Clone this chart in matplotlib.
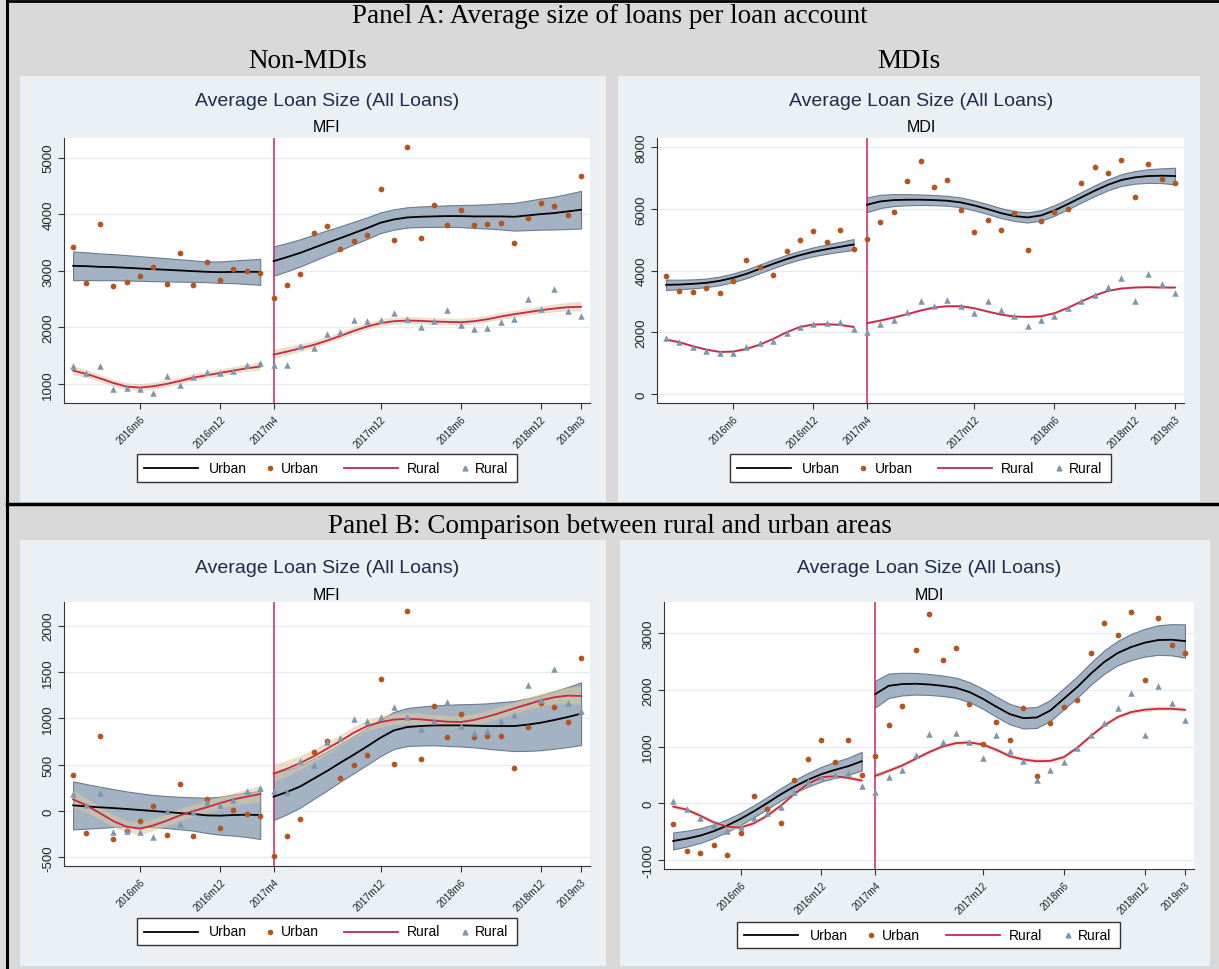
import numpy as np
import matplotlib.pyplot as plt
from matplotlib.patches import Rectangle

W, H = 1219, 970

# months 2016m1 .. 2019m3, cutoff at 2017m4
months = np.arange(39)
cutoff = 15
tick_pos = [5, 11, 15, 23, 29, 35, 38]
tick_labels = ["2016m6", "2016m12", "2017m4", "2017m12", "2018m6", "2018m12", "2019m3"]

# ---- Panel A, Non-MDIs (MFI) ----
a_mfi_urban = [3419, 2788, 3832, 2723, 2799, 2917, 3071, 2758, 3313, 2746, 3153, 2835, 3029, 2994, 2970,
               2528, 2752, 2935, 3661, 3785, 3378, 3519, 3625, 4445, 3537, 5183, 3584, 4162, 3814, 4074,
               3814, 3832, 3838, 3490, 3938, 4192, 4145, 3991, 4676]
a_mfi_rural = [1312, 1195, 1324, 905, 929, 905, 846, 1135, 988, 1130, 1218, 1195, 1236, 1342, 1377,
               1330, 1330, 1672, 1631, 1879, 1926, 2133, 2109, 2139, 2257, 2150, 2015, 2109, 2310, 2044,
               1973, 1997, 2097, 2156, 2498, 2333, 2675, 2298, 2209]
a_mfi_urban_fit = [3088, 3082, 3070, 3065, 3053, 3041, 3029, 3018, 3006, 2994, 2982, 2976, 2982, 2982, 2982,
                   3171, 3242, 3318, 3407, 3495, 3578, 3667, 3755, 3850, 3908, 3944, 3956, 3962, 3968, 3968,
                   3962, 3962, 3962, 3956, 3979, 4003, 4021, 4050, 4080]
a_mfi_urban_ci = [254, 245, 237, 230, 224, 218, 212, 205, 198, 190, 183, 190, 200, 215, 230,
                  260, 250, 240, 230, 220, 210, 200, 190, 183, 180, 180, 182, 185, 190, 195,
                  205, 215, 230, 245, 260, 275, 290, 310, 333]
a_mfi_rural_fit = [1236, 1177, 1100, 1018, 953, 935, 959, 1000, 1053, 1112, 1153, 1195, 1236, 1277, 1307,
                   1519, 1572, 1631, 1690, 1767, 1849, 1938, 2015, 2074, 2109, 2121, 2115, 2103, 2097, 2091,
                   2109, 2144, 2192, 2233, 2268, 2304, 2333, 2357, 2363]
a_mfi_rural_ci = [80, 70, 65, 60, 60, 60, 60, 60, 60, 60, 60, 60, 60, 65, 75,
                  85, 75, 70, 65, 60, 60, 60, 60, 60, 60, 60, 60, 60, 60, 60,
                  60, 60, 60, 60, 60, 65, 70, 75, 85]

# ---- Panel A, MDIs ----
a_mdi_urban = [3843, 3356, 3324, 3453, 3269, 3659, 4330, 4103, 3854, 4623, 4980, 5294, 4926, 5326, 4688,
               5023, 5575, 5911, 6907, 7546, 6723, 6950, 5954, 5240, 5640, 5316, 5879, 4677, 5597, 5889,
               6008, 6853, 7373, 7178, 7578, 6377, 7459, 6983, 6853]
a_mdi_rural = [1830, 1700, 1537, 1407, 1321, 1342, 1537, 1646, 1711, 1992, 2176, 2263, 2306, 2338, 2111,
               2003, 2263, 2414, 2674, 3020, 2869, 3053, 2869, 2620, 3010, 2728, 2544, 2219, 2403, 2544,
               2782, 3020, 3204, 3486, 3757, 3020, 3876, 3573, 3280]
a_mdi_urban_fit = [3540, 3551, 3573, 3605, 3670, 3767, 3897, 4060, 4222, 4374, 4504, 4612, 4698, 4774, 4850,
                   6138, 6247, 6290, 6301, 6301, 6290, 6268, 6214, 6117, 5998, 5868, 5770, 5727, 5792, 5954,
                   6160, 6377, 6593, 6788, 6940, 7026, 7069, 7080, 7069]
a_mdi_urban_ci = [170, 155, 145, 140, 140, 140, 140, 140, 140, 140, 140, 145, 150, 160, 175,
                  240, 215, 195, 180, 170, 165, 160, 160, 160, 160, 160, 160, 165, 170, 170,
                  170, 170, 175, 180, 190, 205, 220, 240, 270]
a_mdi_rural_fit = [1765, 1678, 1548, 1440, 1364, 1375, 1462, 1602, 1786, 2003, 2176, 2252, 2263, 2241, 2176,
                   2295, 2382, 2479, 2587, 2706, 2804, 2847, 2847, 2782, 2674, 2577, 2512, 2501, 2522, 2620,
                   2793, 2999, 3194, 3345, 3421, 3453, 3464, 3453, 3453]
a_mdi_rural_ci = [45] * 39

# ---- Panel B, Non-MDIs (MFI) ----
b_mfi_urban = [392, -237, 806, -299, -219, -108, 50, -263, 288, -273, 133, -187, 11, -29, -50,
               -489, -270, -90, 637, 752, 353, 496, 604, 1421, 511, 2155, 561, 1137, 795, 1047,
               795, 809, 809, 464, 906, 1165, 1119, 960, 1651]
b_mfi_rural = [183, 68, 194, -227, -216, -227, -284, 0, -144, -11, 97, 61, 115, 216, 248,
               212, 201, 543, 493, 748, 791, 996, 971, 1014, 1119, 1014, 888, 971, 1173, 914,
               842, 867, 968, 1032, 1363, 1201, 1532, 1165, 1079]
b_mfi_urban_fit = [61, 50, 40, 32, 22, 11, 0, -11, -22, -32, -47, -50, -43, -40, -43,
                   155, 205, 266, 349, 432, 522, 608, 698, 791, 870, 906, 917, 924, 924, 924,
                   921, 917, 917, 917, 932, 953, 982, 1014, 1050]
b_mfi_urban_ci = [259, 240, 222, 205, 190, 180, 173, 173, 175, 180, 190, 205, 222, 240, 259,
                  252, 240, 228, 218, 210, 204, 200, 198, 198, 200, 205, 210, 215, 222, 228,
                  234, 245, 258, 270, 283, 297, 310, 324, 338]
b_mfi_rural_fit = [126, 61, -22, -108, -169, -191, -155, -104, -47, 0, 40, 86, 126, 155, 183,
                   403, 457, 518, 590, 673, 755, 845, 917, 960, 986, 996, 989, 975, 964, 960,
                   982, 1018, 1061, 1108, 1151, 1194, 1227, 1245, 1241]
b_mfi_rural_ci = [90, 75, 70, 65, 65, 65, 65, 65, 65, 65, 65, 65, 65, 75, 90,
                  95, 85, 75, 70, 65, 60, 60, 60, 60, 60, 60, 60, 60, 60, 60,
                  60, 60, 60, 60, 65, 70, 75, 85, 95]

# ---- Panel B, MDIs ----
b_mdi_urban = [-359, -847, -876, -741, -918, -529, 124, -94, -341, 418, 782, 1106, 723, 1123, 494,
               829, 1382, 1712, 2700, 3341, 2523, 2735, 1753, 1041, 1435, 1123, 1676, 476, 1406, 1694,
               1812, 2653, 3170, 2970, 3376, 2176, 3264, 2788, 2653]
b_mdi_rural = [35, -94, -259, -376, -482, -412, -259, -171, -71, 194, 388, 459, 500, 529, 312,
               206, 459, 588, 853, 1212, 1071, 1241, 1076, 800, 1206, 929, 747, 412, 582, 735,
               971, 1206, 1418, 1682, 1947, 1206, 2065, 1765, 1471]
b_mdi_urban_fit = [-665, -624, -571, -494, -394, -276, -141, 6, 159, 294, 412, 512, 588, 653, 741,
                   1923, 2070, 2100, 2106, 2094, 2070, 2035, 1959, 1841, 1700, 1570, 1500, 1512, 1635, 1841,
                   2047, 2282, 2488, 2647, 2753, 2829, 2876, 2882, 2859]
b_mdi_urban_ci = [150, 140, 130, 120, 112, 106, 106, 106, 110, 115, 120, 130, 140, 150, 165,
                  235, 215, 200, 190, 185, 180, 178, 176, 176, 178, 180, 182, 185, 185, 185,
                  188, 195, 205, 215, 230, 245, 260, 275, 294]
b_mdi_rural_fit = [-59, -112, -218, -335, -412, -429, -353, -218, -41, 165, 341, 459, 476, 447, 400,
                   482, 571, 665, 782, 900, 1000, 1059, 1071, 1035, 941, 829, 771, 741, 747, 812,
                   976, 1182, 1370, 1518, 1606, 1647, 1665, 1665, 1647]
b_mdi_rural_ci = [40] * 39

URBAN_DOT = "#b5541e"
RURAL_TRI = "#7f96ab"
RURAL_LINE = "#c8254f"
CUT_LINE = "#d6336a"
BAND = "#9aabbe"
BAND_EDGE = "#5e7286"
RBAND = "#dcc99a"
GRAPH_BG = "#eaf0f3"
TITLE_COL = "#1e2b4d"
SANS = "Liberation Sans"
SERIF = "Liberation Serif"

fig = plt.figure(figsize=(W / 100, H / 100), dpi=100, facecolor="#d9d9d9")
bg = fig.add_axes([0, 0, 1, 1], zorder=0)
bg.set_xlim(0, W)
bg.set_ylim(H, 0)
bg.axis("off")

# graph regions
for x0, y0, x1, y1 in [(20, 77, 606, 503), (618, 77, 1200, 503),
                       (20, 541, 606, 967), (620, 541, 1210, 967)]:
    bg.add_patch(Rectangle((x0, y0), x1 - x0, y1 - y0, facecolor=GRAPH_BG, lw=0, zorder=1))

# borders
bg.plot([7, 7], [0, H], color="black", lw=2.2, zorder=2)
bg.plot([7, W], [1.5, 1.5], color="black", lw=2, zorder=2)
bg.plot([7, W], [505, 505], color="black", lw=2.5, zorder=2)

bg.text(610, 23, "Panel A: Average size of loans per loan account", family=SERIF,
        fontsize=19.5, ha="center", va="baseline")
bg.text(308, 68, "Non-MDIs", family=SERIF, fontsize=19.5, ha="center", va="baseline")
bg.text(909, 68, "MDIs", family=SERIF, fontsize=19.5, ha="center", va="baseline")
bg.text(610, 533, "Panel B: Comparison between rural and urban areas", family=SERIF,
        fontsize=19.5, ha="center", va="baseline")


def px_axes(l, t, r, b):
    return fig.add_axes([l / W, 1 - b / H, (r - l) / W, (b - t) / H], zorder=2)


def draw_legend(x0, y0, x1, y1):
    bg.add_patch(Rectangle((x0, y0), x1 - x0, y1 - y0, facecolor="white",
                           edgecolor="#333333", lw=1, zorder=3))
    yc = (y0 + y1) / 2
    f = lambda r: x0 + r * (x1 - x0) / 380
    bg.plot([f(7), f(61)], [yc, yc], color="black", lw=1.3, zorder=4)
    bg.text(f(72), yc, "Urban", family=SANS, fontsize=10, va="center", zorder=4)
    bg.plot(f(133), yc, "o", color=URBAN_DOT, ms=3, zorder=4)
    bg.text(f(144), yc, "Urban", family=SANS, fontsize=10, va="center", zorder=4)
    bg.plot([f(207), f(261)], [yc, yc], color=RURAL_LINE, lw=1.3, zorder=4)
    bg.text(f(270), yc, "Rural", family=SANS, fontsize=10, va="center", zorder=4)
    bg.plot(f(328), yc, "^", color=RURAL_TRI, ms=3.5, zorder=4)
    bg.text(f(338), yc, "Rural", family=SANS, fontsize=10, va="center", zorder=4)


def draw_panel(box, title_xy, sub, ylim, yticks, urban, rural, ufit, uci, rfit, rci, legend_box):
    ax = px_axes(*box)
    ufit, uci = np.array(ufit), np.array(uci)
    rfit, rci = np.array(rfit), np.array(rci)
    for seg in (slice(0, cutoff), slice(cutoff, 39)):
        xs = months[seg]
        ax.fill_between(xs, ufit[seg] - uci[seg], ufit[seg] + uci[seg], facecolor=BAND,
                        edgecolor=BAND_EDGE, lw=0.8, alpha=0.9, zorder=2)
        ax.fill_between(xs, rfit[seg] - rci[seg], rfit[seg] + rci[seg], facecolor=RBAND,
                        edgecolor="none", alpha=0.55, zorder=3)
        ax.plot(xs, ufit[seg], color="black", lw=1.3, zorder=5)
        ax.plot(xs, rfit[seg], color=RURAL_LINE, lw=1.3, zorder=5)
    ax.axvline(cutoff, color=CUT_LINE, lw=1.2, zorder=4)
    ax.scatter(months, urban, s=17, marker="o", color=URBAN_DOT, lw=0, zorder=6)
    ax.scatter(months, rural, s=22, marker="^", color=RURAL_TRI, lw=0, zorder=6)

    ax.set_xlim(-0.68, 38.67)
    ax.set_ylim(*ylim)
    ax.set_yticks(yticks)
    ax.set_yticklabels([str(v) for v in yticks], rotation=90, va="center",
                       family=SANS, fontsize=9.5)
    ax.set_xticks(tick_pos)
    ax.set_xticklabels(tick_labels, rotation=45, ha="right", rotation_mode="anchor",
                       family=SANS, fontsize=7)
    ax.yaxis.grid(True, color="#e6edf1", lw=1)
    ax.set_axisbelow(True)
    for s in ("top", "right"):
        ax.spines[s].set_visible(False)
    for s in ("left", "bottom"):
        ax.spines[s].set_color("#333333")
    ax.tick_params(direction="out", length=4, color="#333333", labelcolor="#222222")
    ax.tick_params(axis="y", pad=3)

    bg.text(title_xy[0], title_xy[1], "Average Loan Size (All Loans)", family=SANS,
            fontsize=14, color=TITLE_COL, ha="center", va="center")
    bg.text(title_xy[0], title_xy[1] + 27, sub, family=SANS, fontsize=11.5,
            color="black", ha="center", va="center")
    draw_legend(*legend_box)


draw_panel((64, 139, 590, 404), (327, 101), "MFI", (663, 5348), [1000, 2000, 3000, 4000, 5000],
           a_mfi_urban, a_mfi_rural, a_mfi_urban_fit, a_mfi_urban_ci,
           a_mfi_rural_fit, a_mfi_rural_ci, (137, 455, 517, 483))
draw_panel((657, 139, 1184, 404), (921, 101), "MDI", (-292, 8303), [0, 2000, 4000, 6000, 8000],
           a_mdi_urban, a_mdi_rural, a_mdi_urban_fit, a_mdi_urban_ci,
           a_mdi_rural_fit, a_mdi_rural_ci, (730, 455, 1111, 483))
draw_panel((64, 603, 590, 867), (327, 569), "MFI", (-593, 2255), [-500, 0, 500, 1000, 1500, 2000],
           b_mfi_urban, b_mfi_rural, b_mfi_urban_fit, b_mfi_urban_ci,
           b_mfi_rural_fit, b_mfi_rural_ci, (137, 919, 517, 946))
draw_panel((664, 603, 1194, 870), (929, 569), "MDI", (-1159, 3547), [-1000, 0, 1000, 2000, 3000],
           b_mdi_urban, b_mdi_rural, b_mdi_urban_fit, b_mdi_urban_ci,
           b_mdi_rural_fit, b_mdi_rural_ci, (737, 923, 1120, 949))

fig.savefig("out.png", dpi=100, facecolor=fig.get_facecolor())
